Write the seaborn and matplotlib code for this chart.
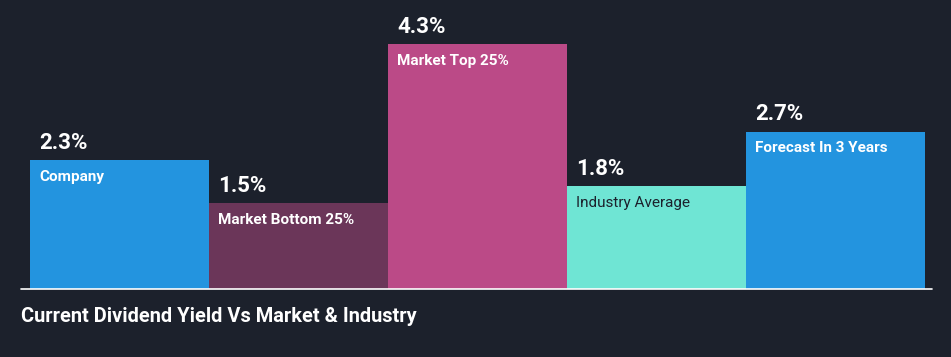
import pandas as pd
import matplotlib.pyplot as plt
import seaborn as sns
from matplotlib.lines import Line2D

categories = ['Company', 'Market Bottom 25%', 'Market Top 25%', 'Industry Average', 'Forecast In 3 Years']
yields = [2.26, 1.51, 4.3, 1.81, 2.76]
value_labels = ['2.3%', '1.5%', '4.3%', '1.8%', '2.7%']
colors = ['#2394df', '#6b3659', '#bb4a87', '#6fe5d4', '#2394df']
name_colors = ['white', 'white', 'white', '#1c212c', 'white']
name_weights = ['bold', 'bold', 'bold', 'normal', 'bold']

bg = '#1c212c'
sns.set_theme(style='white')
plt.rcParams['font.family'] = ['Roboto', 'DejaVu Sans']

df = pd.DataFrame({'cat': categories, 'val': yields})

fig = plt.figure(figsize=(9.51, 3.57), dpi=100, facecolor=bg)
ax = fig.add_axes([30 / 951, (357 - 289) / 357, 895 / 951, (289 - 44) / 357])
ax.set_facecolor(bg)

sns.barplot(data=df, x='cat', y='val', hue='cat', palette=colors, width=1,
            saturation=1, legend=False, linewidth=0, edgecolor='none', ax=ax)
ax.set_xlim(-0.5, len(categories) - 0.5)
ax.set_ylim(0, max(yields))
ax.set_axis_off()

for bar, vl, name, nc, nw in zip(ax.patches, value_labels, categories, name_colors, name_weights):
    x0 = bar.get_x()
    top = bar.get_height()
    ax.annotate(vl, (x0, top), xytext=(6.5, 4.5), textcoords='offset points',
                ha='left', va='bottom', color='white', fontsize=16, fontweight='semibold',
                annotation_clip=False)
    ax.annotate(name, (x0, top), xytext=(6.5, -7), textcoords='offset points',
                ha='left', va='top', color=nc, fontsize=11, fontweight=nw,
                annotation_clip=False)

fig.add_artist(Line2D([21 / 951, 932 / 951], [(357 - 289) / 357] * 2, color='white', lw=1.2))
fig.text(21 / 951, (357 - 316) / 357, 'Current Dividend Yield Vs Market & Industry',
         color='white', fontsize=14.4, fontweight='bold', ha='left', va='center')

fig.savefig('out.png', dpi=100, facecolor=bg)
